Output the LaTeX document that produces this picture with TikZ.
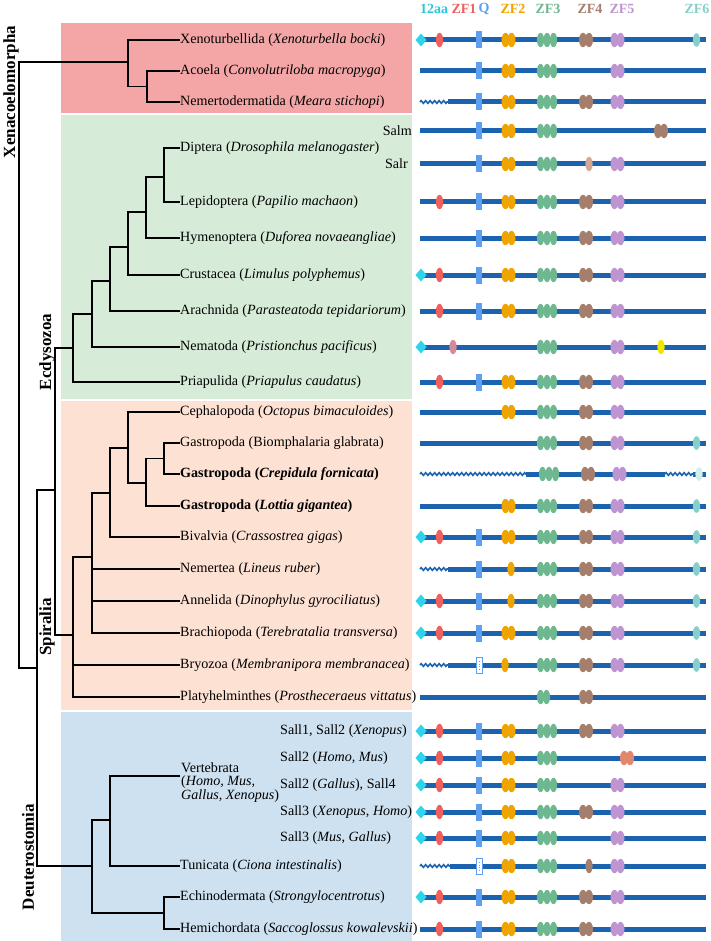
\documentclass[tikz,border=0pt]{standalone}
\usepackage{fontspec}
\setmainfont{Liberation Serif}
\usetikzlibrary{decorations.pathmorphing}
\definecolor{pred}{HTML}{F4A6A6}
\definecolor{pgreen}{HTML}{D6ECD9}
\definecolor{ppeach}{HTML}{FDE1D3}
\definecolor{pblue}{HTML}{CDE1F0}
\definecolor{barblue}{HTML}{1B63AE}
\definecolor{c12}{HTML}{2CD5EC}
\definecolor{cz1}{HTML}{EF5F5C}
\definecolor{cq}{HTML}{5E9FF2}
\definecolor{cz2}{HTML}{F0A400}
\definecolor{cz3}{HTML}{6DB890}
\definecolor{cz4}{HTML}{A67F6C}
\definecolor{cz5}{HTML}{BE95D0}
\definecolor{cz6}{HTML}{87D0C9}
\definecolor{clb}{HTML}{D4A892}
\definecolor{cpink}{HTML}{D98A9A}
\definecolor{cyel}{HTML}{F2E600}
\definecolor{csal}{HTML}{E0876E}
\definecolor{hdr12}{HTML}{2CC6DC}
\newcommand\pbar[1]{\draw[barline] (420,#1) -- (706,#1);}
\newcommand\dD[1]{\fill[c12] (421,#1-6.5) -- (426.5,#1) -- (421,#1+6.5) -- (415.5,#1) -- cycle;}
\newcommand\dA[1]{\fill[cz1] (439.5,#1) ellipse (3.6pt and 7.2pt);}
\newcommand\dQ[1]{\fill[cq] (476,#1-8.5) rectangle (482,#1+8.5);}
\newcommand\dQo[1]{\fill[white] (476,#1-8) rectangle (482,#1+8); \draw[cq,line width=0.7pt] (476,#1-8) rectangle (482,#1+8); \draw[cq,line width=0.6pt,dotted] (479,#1-4) -- (479,#1+4);}
\newcommand\dB[1]{\fill[cz2] (505.5,#1) ellipse (4pt and 7.2pt); \fill[cz2] (511.5,#1) ellipse (4pt and 7.2pt);}
\newcommand\dBs[2]{\fill[cz2] (#1,#2) ellipse (3.6pt and 7.2pt);}
\newcommand\dC[1]{\foreach \xx in {540.5,547,553.5} {\fill[cz3] (\xx,#1) ellipse (3.6pt and 7.2pt);}}
\newcommand\dCs[2]{\foreach \xx in {540.5,547,553.5} {\fill[cz3] (\xx+#1,#2) ellipse (3.6pt and 7.2pt);}}
\newcommand\dE[1]{\fill[cz4] (583,#1) ellipse (4pt and 7.2pt); \fill[cz4] (589,#1) ellipse (4pt and 7.2pt);}
\newcommand\dF[1]{\fill[cz5] (614.5,#1) ellipse (4pt and 7.2pt); \fill[cz5] (620.5,#1) ellipse (4pt and 7.2pt);}
\newcommand\dG[1]{\fill[cz6] (696.5,#1) ellipse (3.6pt and 6.8pt);}
\newcommand\dH[3]{\fill[white] (#1,#3-2.6) rectangle (#2,#3+2.6); \draw[barblue, line width=1.6pt, decorate, decoration={zigzag, segment length=4.5pt, amplitude=1.3pt}] (#1,#3) -- (#2,#3);}
\tikzset{
  tree/.style={line width=1.5pt, black},
  barline/.style={line width=5pt, barblue},
  lab/.style={anchor=west, inner sep=0pt, font=\fontsize{14.1}{16}\selectfont},
  clade/.style={rotate=90, inner sep=0pt, font=\bfseries\fontsize{17}{17}\selectfont},
  hdr/.style={inner sep=0pt, font=\bfseries\fontsize{14}{14}\selectfont}
}
\begin{document}
\begin{tikzpicture}[x=1pt,y=-1pt]
\useasboundingbox (0,0) rectangle (710,941);
\fill[white] (0,0) rectangle (710,941);
% panels
\fill[pred] (61,23) rectangle (412,113);
\fill[pgreen] (61,115) rectangle (412,399);
\fill[ppeach] (61,401) rectangle (412,710);
\fill[pblue] (61,712) rectangle (412,941);
% header
\node[hdr, text=hdr12] (h12) at (434,9) {12aa};
\node[hdr, text=cz1] (hz1) at (464,9) {ZF1};
\node[hdr, text=cq] (hq) at (484,9) {Q};
\node[hdr, text=cz2] (hz2) at (513,9) {ZF2};
\node[hdr, text=cz3] (hz3) at (548,9) {ZF3};
\node[hdr, text=cz4] (hz4) at (590,9) {ZF4};
\node[hdr, text=cz5] (hz5) at (622,9) {ZF5};
\node[hdr, text=cz6] (hz6) at (697,9) {ZF6};
% clade labels
\node[clade] (cx) at (11,92) {Xenacoelomorpha};
\node[clade] (ce) at (47,352) {Ecdysozoa};
\node[clade] (cs) at (47,627) {Spiralia};
\node[clade] (cd) at (28,857) {Deuterostomia};
% leaf labels
\node[lab] (xeno) at (180,40) {Xenoturbellida (\textit{Xenoturbella bocki})};
\node[lab] (acoe) at (180,71) {Acoela (\textit{Convolutriloba macropyga})};
\node[lab] (nemd) at (180,102) {Nemertodermatida (\textit{Meara stichopi})};
\node[lab, anchor=east] (salm) at (412,131) {Salm};
\node[lab, anchor=east] (salr) at (408,164) {Salr};
\node[lab] (dipt) at (180,148) {Diptera (\textit{Drosophila melanogaster})};
\node[lab] (lepi) at (180,202) {Lepidoptera (\textit{Papilio machaon})};
\node[lab] (hyme) at (180,238) {Hymenoptera (\textit{Duforea novaeangliae})};
\node[lab] (crus) at (180,275) {Crustacea (\textit{Limulus polyphemus})};
\node[lab] (arac) at (180,311) {Arachnida (\textit{Parasteatoda tepidariorum})};
\node[lab] (nema) at (180,347) {Nematoda (\textit{Pristionchus pacificus})};
\node[lab] (pria) at (180,382) {Priapulida (\textit{Priapulus caudatus})};
\node[lab] (ceph) at (180,412) {Cephalopoda (\textit{Octopus bimaculoides})};
\node[lab] (biom) at (180,443) {Gastropoda (Biomphalaria glabrata)};
\node[lab] (crep) at (180,474) {\textbf{Gastropoda (\textit{Crepidula fornicata})}};
\node[lab] (lott) at (180,506) {\textbf{Gastropoda (\textit{Lottia gigantea})}};
\node[lab] (biva) at (180,537) {Bivalvia (\textit{Crassostrea gigas})};
\node[lab] (nmrt) at (180,569) {Nemertea (\textit{Lineus ruber})};
\node[lab] (anne) at (180,601) {Annelida (\textit{Dinophylus gyrociliatus})};
\node[lab] (brac) at (180,633) {Brachiopoda (\textit{Terebratalia transversa})};
\node[lab] (bryo) at (180,665) {Bryozoa (\textit{Membranipora membranacea})};
\node[lab] (plat) at (180,697) {Platyhelminthes (\textit{Prostheceraeus vittatus})};
\node[lab, anchor=north west, align=left, font=\fontsize{14.1}{13.5}\selectfont] (vert) at (181,762.5) {Vertebrata\\(\textit{Homo, Mus,}\\\textit{Gallus, Xenopus})};
\coordinate (vertc) at (180,776);
\node[lab] (s1) at (280,731) {Sall1, Sall2 (\textit{Xenopus})};
\node[lab] (s2) at (280,758) {Sall2 (\textit{Homo, Mus})};
\node[lab] (s3) at (280,785) {Sall2 (\textit{Gallus}), Sall4};
\node[lab] (s4) at (280,812) {Sall3 (\textit{Xenopus}, \textit{Homo})};
\node[lab] (s5) at (280,838) {Sall3 (\textit{Mus}, \textit{Gallus})};
\node[lab] (tuni) at (180,866) {Tunicata (\textit{Ciona intestinalis})};
\node[lab] (echi) at (180,897) {Echinodermata (\textit{Strongylocentrotus})};
\node[lab] (hemi) at (180,929) {Hemichordata (\textit{Saccoglossus kowalevskii})};
% tree internal nodes
\coordinate (X0) at (128,62);
\coordinate (X1) at (147,86.5);
\coordinate (ED) at (164,177);
\coordinate (EH) at (146,212);
\coordinate (EI) at (128,247);
\coordinate (EA) at (110,281);
\coordinate (EN) at (92,314);
\coordinate (EC) at (73,348);
\coordinate (SG) at (164,458.5);
\coordinate (SL) at (146,483);
\coordinate (SC) at (128,448);
\coordinate (SB) at (110,493);
\coordinate (SN) at (92,557);
\coordinate (SP) at (73,635);
\coordinate (PR) at (55,490);
\coordinate (DV) at (110,820);
\coordinate (DE) at (164,913);
\coordinate (DD) at (92,866);
\coordinate (BI) at (37,668);
\coordinate (RT) at (19,365);
% tree edges
\draw[tree] (RT) |- (X0);
\draw[tree] (RT) |- (BI);
\draw[tree] (X0) |- (xeno.west);
\draw[tree] (X0) |- (X1);
\draw[tree] (X1) |- (acoe.west);
\draw[tree] (X1) |- (nemd.west);
\draw[tree] (ED) |- (dipt.west);
\draw[tree] (ED) |- (lepi.west);
\draw[tree] (EH) |- (ED);
\draw[tree] (EH) |- (hyme.west);
\draw[tree] (EI) |- (EH);
\draw[tree] (EI) |- (crus.west);
\draw[tree] (EA) |- (EI);
\draw[tree] (EA) |- (arac.west);
\draw[tree] (EN) |- (EA);
\draw[tree] (EN) |- (nema.west);
\draw[tree] (EC) |- (EN);
\draw[tree] (EC) |- (pria.west);
\draw[tree] (SG) |- (biom.west);
\draw[tree] (SG) |- (crep.west);
\draw[tree] (SL) |- (SG);
\draw[tree] (SL) |- (lott.west);
\draw[tree] (SC) |- (ceph.west);
\draw[tree] (SC) |- (SL);
\draw[tree] (SB) |- (SC);
\draw[tree] (SB) |- (biva.west);
\draw[tree] (SN) |- (SB);
\draw[tree] (SN) |- (nmrt.west);
\draw[tree] (SN) |- (anne.west);
\draw[tree] (SN) |- (brac.west);
\draw[tree] (SP) |- (SN);
\draw[tree] (SP) |- (bryo.west);
\draw[tree] (SP) |- (plat.west);
\draw[tree] (PR) |- (EC);
\draw[tree] (PR) |- (SP);
\draw[tree] (DV) |- (vertc);
\draw[tree] (DV) |- (tuni.west);
\draw[tree] (DE) |- (echi.west);
\draw[tree] (DE) |- (hemi.west);
\draw[tree] (DD) |- (DV);
\draw[tree] (DD) |- (DE);
\draw[tree] (BI) |- (PR);
\draw[tree] (BI) |- (DD);
% domain rows
\foreach \yy in {40,71,102,131,164,202,238,275,311,347,382,412,443,474,506,537,569,601,633,665,697,731,758,785,812,838,866,897,929} {\pbar{\yy}}
% 1 Xenoturbellida
\dD{40}\dA{40}\dQ{40}\dB{40}\dC{40}\dE{40}\dF{40}\dG{40}
% 2 Acoela
\dQ{71}\dB{71}\dC{71}\dF{71}
% 3 Nemertodermatida
\dH{420}{448}{102}\dQ{102}\dB{102}\dC{102}\dE{102}\dF{102}
% Salm
\dQ{131}\dB{131}\dC{131}
\fill[cz4] (658,131) ellipse (4pt and 7.2pt); \fill[cz4] (664,131) ellipse (4pt and 7.2pt);
% Salr
\dQ{164}\dB{164}\dC{164}\fill[clb] (589,164) ellipse (3.6pt and 7.2pt);\dF{164}
% Lepidoptera
\dA{202}\dQ{202}\dB{202}\dC{202}\dE{202}\dF{202}
% Hymenoptera
\dQ{238}\dB{238}\dC{238}\dE{238}\dF{238}
% Crustacea
\dD{275}\dA{275}\dQ{275}\dB{275}\dC{275}\dE{275}\dF{275}
% Arachnida
\dA{311}\dQ{311}\dB{311}\dC{311}\dE{311}\dF{311}
% Nematoda
\dD{347}\fill[cpink] (453,347) ellipse (3.6pt and 7.2pt);\dC{347}\dF{347}\fill[cyel] (661,347) ellipse (3.6pt and 7.2pt);
% Priapulida
\dA{382}\dQ{382}\dB{382}\dC{382}\dE{382}\dF{382}
% Cephalopoda
\dB{412}\dC{412}\dE{412}\dF{412}
% Biomphalaria
\dC{443}\dE{443}\dF{443}\dG{443}
% Crepidula
\dH{420}{526}{474}\dCs{2}{474}
\fill[cz4] (585,474) ellipse (4pt and 7.2pt); \fill[cz4] (591,474) ellipse (4pt and 7.2pt);
\fill[cz5] (616.5,474) ellipse (4pt and 7.2pt); \fill[cz5] (622.5,474) ellipse (4pt and 7.2pt);
\dH{665}{693}{474}\fill[cz6!35] (699,474) ellipse (3.6pt and 6.8pt);
% Lottia
\dB{506}\dC{506}\dE{506}\dF{506}\dG{506}
% Bivalvia
\dD{537}\dA{537}\dQ{537}\dB{537}\dC{537}\dE{537}\dF{537}\dG{537}
% Nemertea
\dH{420}{448}{569}\dQ{569}\dBs{511}{569}\dC{569}\dE{569}\dF{569}\dG{569}
% Annelida
\dD{601}\dA{601}\dQ{601}\dBs{511}{601}\dC{601}\dE{601}\dF{601}\dG{601}
% Brachiopoda
\dD{633}\dA{633}\dQ{633}\dB{633}\dC{633}\dE{633}\dF{633}\dG{633}
% Bryozoa
\dH{420}{448}{665}\dQo{665}\dBs{505}{665}\dC{665}\dE{665}\dF{665}\dG{665}
% Platyhelminthes
\fill[cz3] (540.5,697) ellipse (3.6pt and 7.2pt); \fill[cz3] (546.5,697) ellipse (3.6pt and 7.2pt); \dE{697}
% Vertebrata
\dD{731}\dA{731}\dQ{731}\dB{731}\dC{731}\dE{731}\dF{731}
\dD{758}\dA{758}\dQ{758}\dB{758}\dC{758}
\fill[csal] (624,758) ellipse (4pt and 7.2pt); \fill[csal] (630,758) ellipse (4pt and 7.2pt);
\dD{785}\dA{785}\dQ{785}\dB{785}\dC{785}\dF{785}
\dD{812}\dA{812}\dQ{812}\dB{812}\dC{812}\dE{812}\dF{812}
\dD{838}\dA{838}\dQ{838}\dB{838}\dC{838}\dF{838}
% Tunicata
\dH{420}{450}{866}\dQo{866}\dB{866}\dC{866}\fill[cz4] (589,866) ellipse (3.6pt and 7.2pt);\dF{866}
% Echinodermata
\dD{897}\dA{897}\dQ{897}\dB{897}\dC{897}\dE{897}\dF{897}
% Hemichordata
\dA{929}\dQ{929}\dB{929}\dC{929}\dE{929}\dF{929}
\end{tikzpicture}
\end{document}
